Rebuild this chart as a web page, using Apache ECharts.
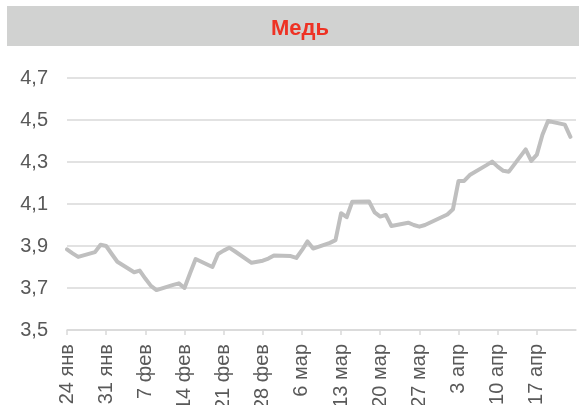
<!DOCTYPE html>
<html>
<head>
<meta charset="utf-8">
<script src="https://cdn.jsdelivr.net/npm/echarts@6/dist/echarts.min.js"></script>
<style>html,body{margin:0;padding:0;background:#fff;}#chart{width:579px;height:405px;}</style>
</head>
<body>
<div id="chart"></div>
<script>
const title = 'Медь';
const startDate = '2024-01-24';
const endDate = '2024-04-24';
const monthNames = ['янв','фев','мар','апр','май','июн','июл','авг','сен','окт','ноя','дек'];
const yTicks = [3.5, 3.7, 3.9, 4.1, 4.3, 4.5, 4.7];
const dates = [
 '2024-01-24','2024-01-25','2024-01-26','2024-01-29','2024-01-30','2024-01-31',
 '2024-02-01','2024-02-02','2024-02-05','2024-02-06','2024-02-07','2024-02-08','2024-02-09',
 '2024-02-12','2024-02-13','2024-02-14','2024-02-15','2024-02-16',
 '2024-02-19','2024-02-20','2024-02-21','2024-02-22','2024-02-23',
 '2024-02-26','2024-02-27','2024-02-28','2024-02-29','2024-03-01',
 '2024-03-04','2024-03-05','2024-03-06','2024-03-07','2024-03-08',
 '2024-03-11','2024-03-12','2024-03-13','2024-03-14','2024-03-15',
 '2024-03-18','2024-03-19','2024-03-20','2024-03-21','2024-03-22',
 '2024-03-25','2024-03-26','2024-03-27','2024-03-28',
 '2024-04-01','2024-04-02','2024-04-03','2024-04-04','2024-04-05',
 '2024-04-08','2024-04-09','2024-04-10','2024-04-11','2024-04-12',
 '2024-04-15','2024-04-16','2024-04-17','2024-04-18','2024-04-19',
 '2024-04-22','2024-04-23'
];
const prices = [
 3.884, 3.865, 3.848, 3.871, 3.906, 3.900,
 3.862, 3.825, 3.775, 3.783, 3.745, 3.710, 3.690,
 3.715, 3.722, 3.700, 3.770, 3.838,
 3.800, 3.862, 3.878, 3.892, 3.875,
 3.820, 3.825, 3.830, 3.840, 3.855,
 3.852, 3.843, 3.880, 3.922, 3.888,
 3.915, 3.928, 4.056, 4.037, 4.111,
 4.112, 4.060, 4.040, 4.048, 3.995,
 4.011, 4.000, 3.992, 4.000,
 4.050, 4.075, 4.210, 4.210, 4.238,
 4.285, 4.302, 4.278, 4.258, 4.254,
 4.360, 4.305, 4.335, 4.430, 4.495,
 4.478, 4.420
];

const DAY = 86400000;
function toUTC(s){ const p = s.split('-').map(Number); return Date.UTC(p[0], p[1]-1, p[2]); }
const t0 = toUTC(startDate);
const totalDays = Math.round((toUTC(endDate) - t0) / DAY);
const seriesData = dates.map((d, i) => [Math.round((toUTC(d) - t0) / DAY), prices[i]]);

const chart = echarts.init(document.getElementById('chart'), null, {renderer: 'canvas'});
chart.setOption({
  animation: false,
  backgroundColor: '#ffffff',
  graphic: [{
    type: 'rect', left: 7, top: 6, z: -1,
    shape: {width: 572, height: 40},
    style: {fill: '#d1d2d1'}
  }],
  title: {
    text: title, left: 295, top: 13, textAlign: 'center',
    textStyle: {color: '#ee3224', fontSize: 22, fontWeight: 'bold', fontFamily: 'Liberation Sans, Arial, sans-serif'}
  },
  grid: {left: 67, right: 3, top: 78, bottom: 75, containLabel: false, outerBoundsMode: 'none'},
  xAxis: {
    type: 'value', min: 0, max: totalDays, interval: 7,
    splitLine: {show: false},
    axisLine: {show: true, lineStyle: {color: '#d9d9d9', width: 1.5}},
    axisTick: {show: true, length: 5, lineStyle: {color: '#d9d9d9', width: 1.5}},
    axisLabel: {
      rotate: 90, margin: 14, color: '#595959', fontSize: 20,
      fontFamily: 'Liberation Sans, Arial, sans-serif',
      showMinLabel: true, showMaxLabel: false, hideOverlap: false,
      formatter: function(v){
        const d = new Date(t0 + v * DAY);
        return d.getUTCDate() + ' ' + monthNames[d.getUTCMonth()];
      }
    }
  },
  yAxis: {
    type: 'value', min: yTicks[0], max: yTicks[yTicks.length-1], interval: 0.2,
    axisLine: {show: false}, axisTick: {show: false},
    splitLine: {show: true, lineStyle: {color: '#d9d9d9', width: 1.5}},
    axisLabel: {
      margin: 19, color: '#595959', fontSize: 20,
      fontFamily: 'Liberation Sans, Arial, sans-serif',
      formatter: v => v.toFixed(1).replace('.', ',')
    }
  },
  series: [{
    type: 'line', data: seriesData, symbol: 'none', smooth: false,
    lineStyle: {color: '#bfbfbf', width: 4, join: 'round', cap: 'round'}
  }]
});
</script>
</body>
</html>
